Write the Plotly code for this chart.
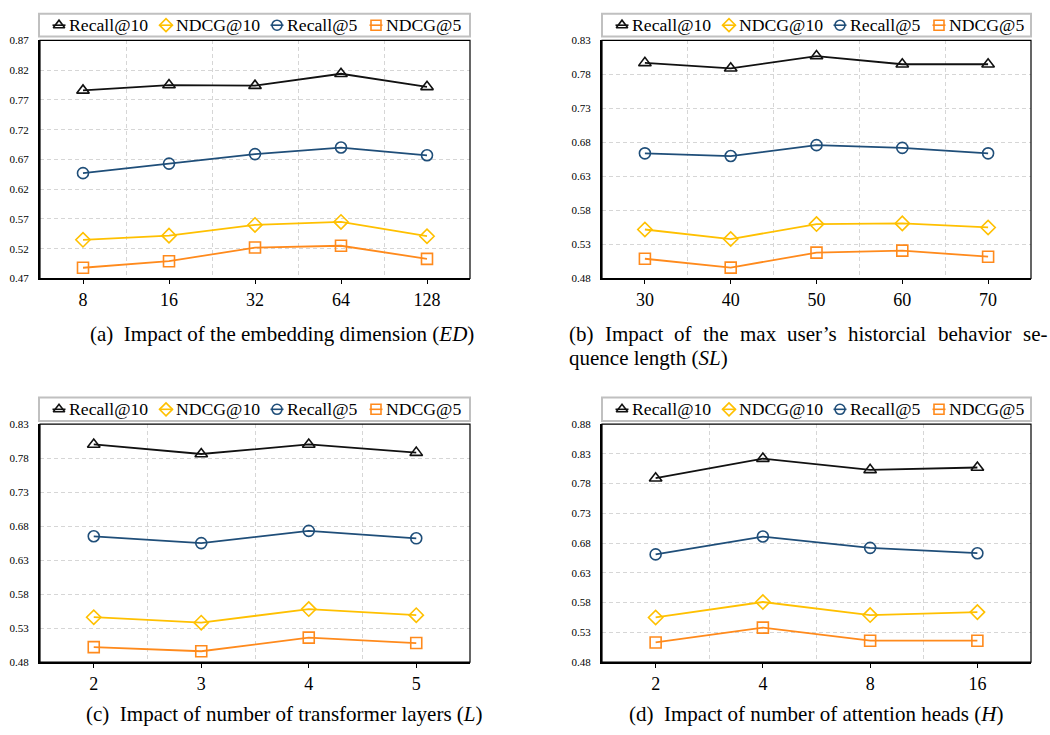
import plotly.graph_objects as go

# ---------------- data ----------------
series_names = ["Recall@10", "NDCG@10", "Recall@5", "NDCG@5"]

ed_labels = ["8", "16", "32", "64", "128"]
ed_recall10 = [0.786, 0.795, 0.794, 0.814, 0.792]
ed_ndcg10 = [0.535, 0.542, 0.560, 0.565, 0.541]
ed_recall5 = [0.647, 0.663, 0.679, 0.690, 0.677]
ed_ndcg5 = [0.488, 0.499, 0.522, 0.525, 0.503]

sl_labels = ["30", "40", "50", "60", "70"]
sl_recall10 = [0.797, 0.789, 0.807, 0.795, 0.795]
sl_ndcg10 = [0.552, 0.538, 0.560, 0.561, 0.555]
sl_recall5 = [0.664, 0.660, 0.676, 0.672, 0.664]
sl_ndcg5 = [0.509, 0.496, 0.518, 0.521, 0.512]

l_labels = ["2", "3", "4", "5"]
l_recall10 = [0.800, 0.786, 0.800, 0.788]
l_ndcg10 = [0.546, 0.538, 0.558, 0.549]
l_recall5 = [0.665, 0.655, 0.673, 0.662]
l_ndcg5 = [0.502, 0.496, 0.516, 0.508]

h_labels = ["2", "4", "8", "16"]
h_recall10 = [0.789, 0.822, 0.803, 0.807]
h_ndcg10 = [0.555, 0.581, 0.559, 0.564]
h_recall5 = [0.661, 0.691, 0.672, 0.663]
h_ndcg5 = [0.513, 0.538, 0.516, 0.516]

y_ranges = [(0.47, 0.87), (0.48, 0.83), (0.48, 0.83), (0.48, 0.88)]

# ---------------- style ----------------
W, H = 1050, 735
colors = ["#111111", "#FFC000", "#1F4E79", "#FF8A1C"]
symbols = ["triangle-up-open", "diamond-open", "circle-open", "square-open"]
SERIF = "Liberation Serif"

# plot area pixel boxes (left, top, right, bottom)
boxes = [(40, 35, 470, 277), (602, 35, 1031, 277),
         (40, 425, 470, 667), (602, 425, 1031, 667)]
# legend boxes (top, bottom) per panel and item offsets
legend_tb = [(8, 31), (8, 31), (398, 422), (398, 422)]
leg_sym_off = [20, 127, 238, 337]
leg_txt_off = [28, 135, 246, 345]

panels = [
    (ed_labels, [ed_recall10, ed_ndcg10, ed_recall5, ed_ndcg5]),
    (sl_labels, [sl_recall10, sl_ndcg10, sl_recall5, sl_ndcg5]),
    (l_labels, [l_recall10, l_ndcg10, l_recall5, l_ndcg5]),
    (h_labels, [h_recall10, h_ndcg10, h_recall5, h_ndcg5]),
]

fig = go.Figure()
layout = dict(width=W, height=H, autosize=False,
              margin=dict(l=0, r=0, t=0, b=0),
              paper_bgcolor="white", plot_bgcolor="rgba(0,0,0,0)",
              font=dict(family=SERIF, color="black"),
              showlegend=False)
shapes = []
annotations = []

# overlay pixel-space axes for the legend keys
layout["xaxis5"] = dict(domain=[0, 1], range=[0, W], anchor="y5",
                        visible=False, fixedrange=True)
layout["yaxis5"] = dict(domain=[0, 1], range=[H, 0], anchor="x5",
                        visible=False, fixedrange=True)

for p, (labels, vals) in enumerate(panels):
    idx = p + 1
    xa = "x" if idx == 1 else f"x{idx}"
    ya = "y" if idx == 1 else f"y{idx}"
    xs = list(range(len(labels)))
    for s in range(4):
        fig.add_trace(go.Scatter(
            x=xs, y=vals[s], name=series_names[s], mode="lines+markers",
            xaxis=xa, yaxis=ya,
            line=dict(color=colors[s], width=1.8),
            marker=dict(symbol=symbols[s], size=11, color=colors[s],
                        line=dict(width=1.6, color=colors[s])),
        ))
    l, t, r, b = boxes[p]
    n = len(labels)
    key_x = "xaxis" if idx == 1 else f"xaxis{idx}"
    key_y = "yaxis" if idx == 1 else f"yaxis{idx}"
    layout[key_x] = dict(
        domain=[l / W, r / W], anchor=ya, range=[-0.5, n - 0.5],
        tickmode="array", tickvals=xs, ticktext=labels,
        ticks="outside", ticklen=4, tickcolor="black", tickwidth=1,
        showgrid=False, zeroline=False,
        showline=True, linecolor="black", linewidth=2,
        tickfont=dict(family=SERIF, size=18, color="black"),
        minor=dict(tickmode="array", tickvals=[k + 0.5 for k in range(n - 1)],
                   showgrid=True, gridcolor="#d6d6d6", gridwidth=1,
                   griddash="4px,3px", ticks=""),
        fixedrange=True,
    )
    y0, y1 = y_ranges[p]
    layout[key_y] = dict(
        domain=[1 - b / H, 1 - t / H], anchor=xa, range=[y0, y1],
        tickmode="linear", tick0=y0, dtick=0.05, tickformat=".2f",
        showgrid=True, gridcolor="#d6d6d6", gridwidth=1, griddash="4px,3px",
        zeroline=False, showline=True, linecolor="black", linewidth=2,
        ticks="", ticklabelstandoff=7,
        tickfont=dict(family=SERIF, size=11, color="black"),
        fixedrange=True,
    )
    shapes.append(dict(type="rect", xref=f"{xa} domain", yref=f"{ya} domain",
                       x0=0, x1=1, y0=0, y1=1,
                       line=dict(color="black", width=1.2), layer="above"))

    # ----- legend (box, keys, labels) -----
    lt, lb = legend_tb[p]
    lx0 = l - 1 if p % 2 == 0 else l
    shapes.append(dict(type="rect", xref="paper", yref="paper",
                       x0=lx0 / W, x1=r / W, y0=1 - lb / H, y1=1 - lt / H,
                       line=dict(color="#c0c0c0", width=2),
                       fillcolor="rgba(0,0,0,0)", layer="above"))
    cy = (lt + lb) / 2
    for s in range(4):
        cx = lx0 + leg_sym_off[s]
        fig.add_trace(go.Scatter(
            x=[cx - 6.5, cx + 6.5], y=[cy, cy], mode="lines", xaxis="x5",
            yaxis="y5", line=dict(color=colors[s], width=1.6),
            hoverinfo="skip", showlegend=False))
        fig.add_trace(go.Scatter(
            x=[cx], y=[cy], mode="markers", xaxis="x5", yaxis="y5",
            marker=dict(symbol=symbols[s], size=10, color=colors[s],
                        line=dict(width=1.6, color=colors[s])),
            hoverinfo="skip", showlegend=False))
        annotations.append(dict(
            text=series_names[s], x=(lx0 + leg_txt_off[s]) / W,
            y=1 - cy / H, xref="paper", yref="paper", xanchor="left",
            yanchor="middle", showarrow=False,
            font=dict(family=SERIF, size=17.7, color="black")))

NB = "\u00a0"
CAP_SIZE = 21


def cap(text, x, y, anchor="center", size=CAP_SIZE):
    annotations.append(dict(text=text, x=x / W, y=1 - y / H, xref="paper",
                            yref="paper", xanchor=anchor, yanchor="middle",
                            showarrow=False,
                            font=dict(family=SERIF, size=size, color="black")))


cap(f"(a){NB}{NB}Impact of the embedding dimension (<i>ED</i>)", 281.5, 333)

# justified caption (b): first line spread between left and right margins
# (Times-compatible advance widths, per 1000 em)
adv = {"(": 333, ")": 333, "b": 500, "I": 333, "m": 778, "p": 500,
       "a": 444, "c": 444, "t": 278, "o": 500, "f": 333, "h": 500,
       "e": 444, "x": 500, "u": 500, "s": 389, "r": 333, "’": 333,
       "i": 278, "l": 278, "v": 500, "-": 333}
words_b = ["(b)", "Impact", "of", "the", "max", "user’s", "historcial",
           "behavior", "se-"]
line_x0, line_x1 = 567, 1045
widths = [sum(adv[ch] for ch in w_) / 1000 * CAP_SIZE for w_ in words_b]
gap = (line_x1 - line_x0 - sum(widths)) / (len(words_b) - 1)
xpos = line_x0
for w_, wd in zip(words_b, widths):
    cap(w_, xpos, 333, "left")
    xpos += wd + gap
cap("quence length (<i>SL</i>)", line_x0, 358, "left")
cap(f"(c){NB}{NB}Impact of number of transformer layers (<i>L</i>)", 284.5, 720)
cap(f"(d){NB}{NB}Impact of number of attention heads (<i>H</i>)", 815.5, 720)

layout["shapes"] = shapes
layout["annotations"] = annotations
fig.update_layout(**layout)
fig.write_html("out.html")
